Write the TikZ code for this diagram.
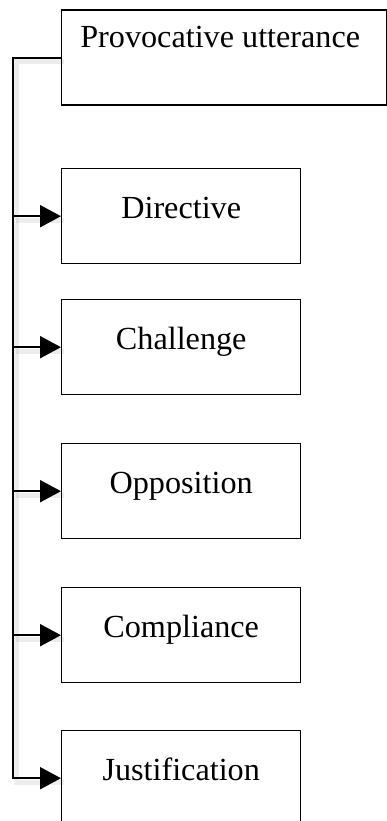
\documentclass[tikz,border=0pt]{standalone}
\usepackage{fontspec}
\setmainfont{Liberation Serif}
\usetikzlibrary{arrows.meta}
\begin{document}
\begin{tikzpicture}[x=1pt,y=-1pt,
  box/.style={draw=black,line width=1.4pt,minimum height=95pt,inner sep=0pt,anchor=north west},
  lbl/.style={anchor=base,inner sep=0pt,font=\fontsize{32.2}{38}\selectfont},
  conn/.style={draw=black,line width=2pt},
  arr/.style={conn,-{Triangle[length=21pt,width=22pt]}},
  shad/.style={draw=black,line width=5pt,opacity=0.07,transform canvas={xshift=3pt,yshift=-4pt}}]
\useasboundingbox (0,0) rectangle (387,821);
% boxes
\node[box,minimum width=325pt] (top) at (61,9.5) {};
\node[box,minimum width=239pt] (d) at (61,168) {};
\node[box,minimum width=239pt] (c) at (61,299) {};
\node[box,minimum width=239pt] (o) at (61,443) {};
\node[box,minimum width=239pt] (m) at (61,587) {};
\node[box,minimum width=239pt] (j) at (61,730) {};
% labels
\node[lbl] (ttop) at ([xshift=-4pt,yshift=-38.5pt]top.north) {Provocative utterance};
\node[lbl] (td) at ([yshift=-50pt]d.north) {Directive};
\node[lbl] (tc) at ([yshift=-50pt]c.north) {Challenge};
\node[lbl] (to) at ([yshift=-50pt]o.north) {Opposition};
\node[lbl] (tm) at ([yshift=-50pt]m.north) {Compliance};
\node[lbl] (tj) at ([yshift=-50pt]j.north) {Justification};
% spine
\coordinate (s) at (13.3,57.5);
% shadows
\path[shad] (top.west) -- (top.west -| s) |- (j.west);
\foreach \b in {d,c,o,m}{\path[shad] (\b.west -| s) -- (\b.west);}
% connectors
\draw[arr] (top.west) -- (top.west -| s) |- (j.west);
\foreach \b in {d,c,o,m}{\draw[arr] (\b.west -| s) -- (\b.west);}
\end{tikzpicture}
\end{document}
